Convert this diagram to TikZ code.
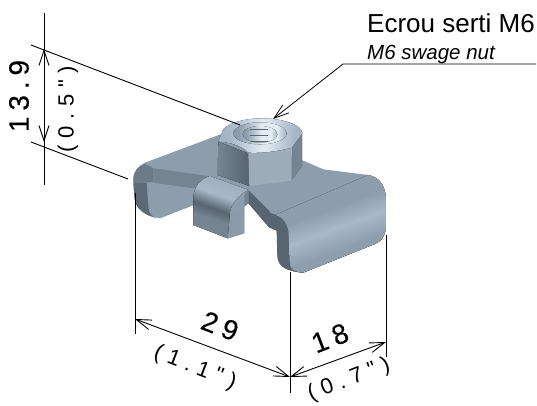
\documentclass[tikz,border=0pt]{standalone}
\usepackage{fontspec}
\setmainfont{Liberation Sans}
\newfontfamily\dimfont[LetterSpace=21,FakeBold=0.25]{Liberation Sans}
\newfontfamily\inchfont[LetterSpace=30]{Liberation Sans}
\usetikzlibrary{arrows.meta, positioning, calc}
\definecolor{steelbase}{RGB}{141,157,172}
\definecolor{steellight}{RGB}{168,184,200}
\definecolor{steelmid}{RGB}{118,132,145}
\definecolor{steeldark}{RGB}{88,100,111}
\definecolor{steelpale}{RGB}{226,236,244}
\pgfdeclareverticalshading{tabshade}{100bp}{color(0bp)=(steelbase); color(36bp)=(steelbase); color(47bp)=(steellight); color(57bp)=(steelbase); color(100bp)=(steelbase)}
\pgfdeclareverticalshading{bendshade}{100bp}{color(0bp)=(steelmid); color(38bp)=(steelmid); color(47bp)=(steeldark); color(59bp)=(steellight); color(100bp)=(steelbase)}
\pgfdeclarehorizontalshading{holeshade}{100bp}{color(0bp)=(steelmid); color(30bp)=(steelbase); color(52bp)=(steelpale); color(66bp)=(steelpale); color(78bp)=(steelbase); color(100bp)=(steelbase)}
\pgfdeclarehorizontalshading{capshade}{100bp}{color(0bp)=(steelbase); color(32bp)=(steellight); color(52bp)=(steelpale); color(70bp)=(steellight); color(100bp)=(steelbase)}
\pgfdeclarehorizontalshading{sideshade}{100bp}{color(0bp)=(steelmid); color(25bp)=(steelmid); color(75bp)=(steeldark); color(100bp)=(steeldark)}

\begin{document}
\begin{tikzpicture}[
        x=1pt, y=-1pt,
        dimline/.style={line width=0.9pt, {Straight Barb[length=15pt,width=10pt]}-{Straight Barb[length=15pt,width=10pt]}},
        extline/.style={line width=0.9pt},
        leaderline/.style={line width=0.8pt, -{Straight Barb[length=15pt,width=10pt]}},
        dimtext/.style={font=\dimfont\fontsize{28}{30}\selectfont, inner sep=0pt},
        inchtext/.style={font=\inchfont\fontsize{22}{24}\selectfont, inner sep=0pt}
    ]
        \useasboundingbox (0,0) rectangle (537,405);

        % part, in a 3x grid
        \begin{scope}[shift={(120,100)}, x=0.3333pt, y=-0.3333pt]
            % outline
            \fill[steelbase] (40,235) .. controls (42,212) and (55,198) .. (75,188) -- (310,100) -- (545,180) -- (610,208) -- (745,225) .. controls (780,232) and (798,260) .. (798,300) -- (798,375) .. controls (798,405) and (785,425) .. (765,432) -- (550,518) .. controls (510,515) and (475,505) .. (472,470) -- (470,392) -- (447,382) -- (385,310) -- (373,320) -- (373,400) -- (325,415) -- (220,375) -- (220,316) -- (120,355) .. controls (70,345) and (45,325) .. (43,290) -- cycle;
            % left lug
            \fill[steelmid] (100,205) -- (265,228) -- (228,266) -- (100,248) -- cycle;
            \fill[steeldark!85!steelmid] (80,248) -- (85,320) .. controls (85,340) and (95,350) .. (112,355) .. controls (70,345) and (45,325) .. (43,290) -- (40,250) -- cycle;
            \fill[steelmid!70!steeldark] (75,192) -- (100,205) -- (100,245) -- (80,248) -- (40,250) -- (40,235) .. controls (42,212) and (55,198) .. cycle;
            % right wedge
            \fill[steeldark] (385,270) -- (450,335) -- (447,382) -- (385,310) -- cycle;
            \fill[steelmid] (373,285) -- (385,270) -- (385,310) -- (373,320) -- cycle;
            % right tab
            \fill[steeldark] (447,338) .. controls (480,345) and (500,365) .. (505,395) -- (510,500) -- (548,518) .. controls (510,515) and (475,505) .. (472,470) -- (470,392) -- (447,382) -- cycle;
            \fill[shading=tabshade, shading angle=20] (465,345) -- (745,225) .. controls (780,232) and (798,260) .. (798,300) -- (798,375) .. controls (798,405) and (785,425) .. (765,432) -- (550,518) .. controls (530,518) and (510,510) .. (509,495) -- (505,395) .. controls (500,365) and (485,350) .. cycle;
            % centre tab
            \fill[steelbase!90!steelmid] (330,335) -- (373,320) -- (373,400) -- (325,415) -- cycle;
            \fill[shading=bendshade, shading angle=-20] (220,375) -- (220,290) .. controls (222,262) and (240,238) .. (270,228) -- (385,270) .. controls (355,285) and (335,310) .. (330,335) -- (323,415) -- cycle;
            % nut
            \fill[shading=sideshade] (295,125) -- (385,160) -- (388,258) -- (293,225) -- cycle;
            \fill[steelbase!85!white] (385,160) -- (515,143) -- (515,242) -- (388,258) -- cycle;
            \fill[steelmid] (515,143) -- (547,100) -- (547,198) -- (515,242) -- cycle;
            \fill[shading=capshade] (305,100) .. controls (305,75) and (365,55) .. (425,55) .. controls (490,55) and (547,75) .. (547,100) -- (515,143) .. controls (470,155) and (420,160) .. (385,158) .. controls (365,135) and (320,125) .. (295,125) -- cycle;
            \fill[shading=holeshade] (420,100) ellipse [x radius=80, y radius=33];
            \fill[shading=holeshade] (420,103) ellipse [x radius=52, y radius=25];
            \draw[steeldark, line width=0.3pt] (390,87) -- (445,87) (390,105) -- (445,105) (390,122) -- (445,122);
        \end{scope}

        % extension lines
        \coordinate (topA) at (31,45);
        \coordinate (topB) at (240,125);
        \coordinate (lowA) at (31,142);
        \coordinate (lowB) at (128,179);
        \coordinate (leftA) at (135,193);
        \coordinate (leftB) at (135,334);
        \coordinate (midA) at (290,272);
        \coordinate (midB) at (290,393);
        \coordinate (rightA) at (386,235);
        \coordinate (rightB) at (386,357);
        \draw[extline] (topA) -- (topB);
        \draw[extline] (lowA) -- (lowB);
        \draw[extline] (leftA) -- (leftB);
        \draw[extline] (midA) -- (midB);
        \draw[extline] (rightA) -- (rightB);

        % dimensions
        \coordinate (vertA) at (44,13);
        \coordinate (vertB) at (44,49);
        \coordinate (vertC) at (44,142);
        \coordinate (vertD) at (44,185);
        \coordinate (wideA) at (135,319);
        \coordinate (wideB) at (290,377);
        \coordinate (deepB) at (386,342);
        \draw[extline] (vertA) -- (vertD);
        \draw[dimline] (vertB) -- (vertC);
        \draw[dimline] (wideA) -- (wideB);
        \draw[dimline] (wideB) -- (deepB);

        \node[dimtext, rotate=90] (height) at (19,96) {13.9};
        \node[inchtext, rotate=90] (heightin) at (68,109) {(0.5")};
        \node[dimtext, rotate=-21] (width) at (220,326) {29};
        \node[inchtext, rotate=-21] (widthin) at (195,368) {(1.1")};
        \node[dimtext, rotate=21] (depth) at (330,338) {18};
        \node[inchtext, rotate=21] (depthin) at (349,380) {(0.7")};

        % callout
        \node[anchor=base west, inner sep=0pt, font=\fontsize{26}{28}\selectfont] (label) at (367,32) {Ecrou serti M6};
        \node[anchor=base west, inner sep=0pt, font=\itshape\fontsize{20.5}{22}\selectfont] (sublabel) at (367,59) {M6 swage nut};
        \coordinate (leadA) at (536,64);
        \coordinate (leadB) at (343,64);
        \coordinate (leadC) at (273,119);
        \draw[leaderline] (leadA) -- (leadB) -- (leadC);
    \end{tikzpicture}
\end{document}
